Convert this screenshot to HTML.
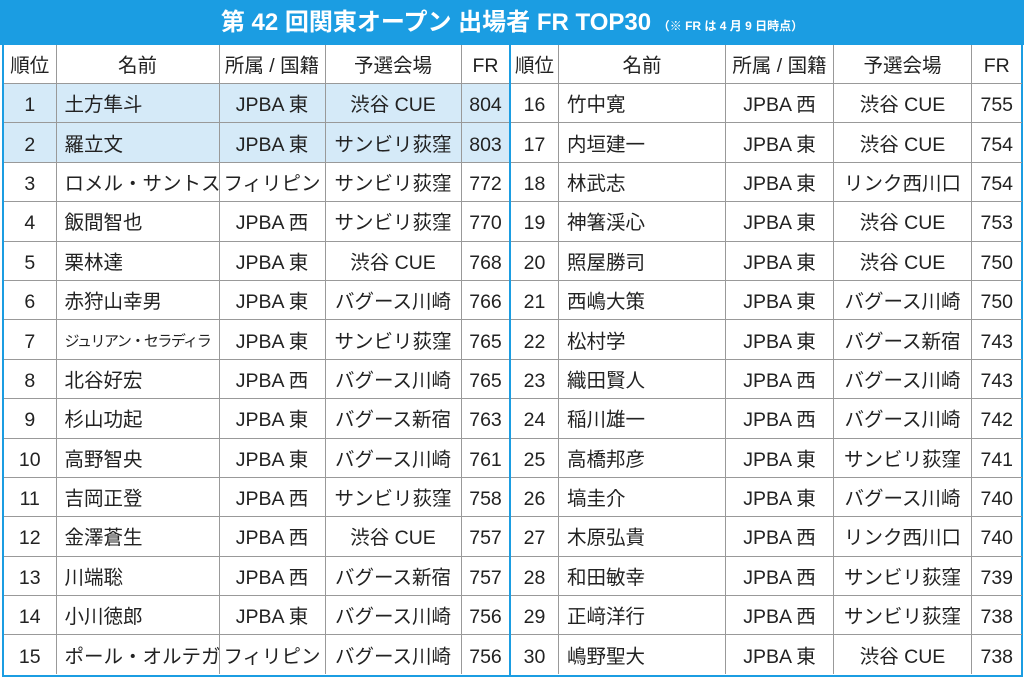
<!DOCTYPE html>
<html><head><meta charset="utf-8"><style>
html,body{margin:0;padding:0;background:#fff;}
body{width:1024px;height:680px;position:relative;overflow:hidden;font-family:"Liberation Sans","Noto Sans CJK JP",sans-serif;}
.title{position:absolute;left:0;top:0;width:1024px;height:45px;background:#1b9de2;color:#fff;font-weight:bold;font-size:24px;line-height:45px;text-align:center;}
.title small{font-size:12px;}
.wrap{position:absolute;left:2px;top:45px;width:1017px;height:630px;border:2px solid #1b9de2;border-top:none;}
table{position:absolute;top:0;border-collapse:collapse;table-layout:fixed;font-size:19.5px;color:#222;}
td{border:1px solid #999;height:34.4px;padding:4px 0 0 0;text-align:center;white-space:nowrap;overflow:hidden;vertical-align:middle;line-height:20px;}
td.n{text-align:left;padding-left:8px;}
tr.h td{height:34px;}
tr.b td{background:#d5eaf8;}
#L{left:0;width:506px;} #R{left:506px;width:511px;}
#L tr td:first-child{border-left:none;}
#R tr td:last-child{border-right:none;}
tr:first-child td{border-top:none;}
tr:last-child td{border-bottom:none;}
.div{position:absolute;left:505px;top:0;width:2px;height:630px;background:#1b9de2;}
.sm{font-size:15px;letter-spacing:-1.5px;}
</style></head><body>
<div class="title">第 42 回関東オープン 出場者 FR TOP30 <small>（※ FR は 4 月 9 日時点）</small></div>
<div class="wrap">
<table id="L"><colgroup><col style="width:52px"><col style="width:163px"><col style="width:106px"><col style="width:136px"><col style="width:49px"></colgroup>
<tr class="h"><td>順位</td><td>名前</td><td>所属 / 国籍</td><td>予選会場</td><td>FR</td></tr>
<tr class="b"><td>1</td><td class="n">土方隼斗</td><td>JPBA 東</td><td>渋谷 CUE</td><td>804</td></tr>
<tr class="b"><td>2</td><td class="n">羅立文</td><td>JPBA 東</td><td>サンビリ荻窪</td><td>803</td></tr>
<tr><td>3</td><td class="n">ロメル・サントス</td><td>フィリピン</td><td>サンビリ荻窪</td><td>772</td></tr>
<tr><td>4</td><td class="n">飯間智也</td><td>JPBA 西</td><td>サンビリ荻窪</td><td>770</td></tr>
<tr><td>5</td><td class="n">栗林達</td><td>JPBA 東</td><td>渋谷 CUE</td><td>768</td></tr>
<tr><td>6</td><td class="n">赤狩山幸男</td><td>JPBA 東</td><td>バグース川崎</td><td>766</td></tr>
<tr><td>7</td><td class="n sm">ジュリアン・セラディラ</td><td>JPBA 東</td><td>サンビリ荻窪</td><td>765</td></tr>
<tr><td>8</td><td class="n">北谷好宏</td><td>JPBA 西</td><td>バグース川崎</td><td>765</td></tr>
<tr><td>9</td><td class="n">杉山功起</td><td>JPBA 東</td><td>バグース新宿</td><td>763</td></tr>
<tr><td>10</td><td class="n">高野智央</td><td>JPBA 東</td><td>バグース川崎</td><td>761</td></tr>
<tr><td>11</td><td class="n">吉岡正登</td><td>JPBA 西</td><td>サンビリ荻窪</td><td>758</td></tr>
<tr><td>12</td><td class="n">金澤蒼生</td><td>JPBA 西</td><td>渋谷 CUE</td><td>757</td></tr>
<tr><td>13</td><td class="n">川端聡</td><td>JPBA 西</td><td>バグース新宿</td><td>757</td></tr>
<tr><td>14</td><td class="n">小川徳郎</td><td>JPBA 東</td><td>バグース川崎</td><td>756</td></tr>
<tr><td>15</td><td class="n">ポール・オルテガ</td><td>フィリピン</td><td>バグース川崎</td><td>756</td></tr>
</table>
<table id="R"><colgroup><col style="width:48px"><col style="width:167px"><col style="width:108px"><col style="width:138px"><col style="width:50px"></colgroup>
<tr class="h"><td>順位</td><td>名前</td><td>所属 / 国籍</td><td>予選会場</td><td>FR</td></tr>
<tr><td>16</td><td class="n">竹中寛</td><td>JPBA 西</td><td>渋谷 CUE</td><td>755</td></tr>
<tr><td>17</td><td class="n">内垣建一</td><td>JPBA 東</td><td>渋谷 CUE</td><td>754</td></tr>
<tr><td>18</td><td class="n">林武志</td><td>JPBA 東</td><td>リンク西川口</td><td>754</td></tr>
<tr><td>19</td><td class="n">神箸渓心</td><td>JPBA 東</td><td>渋谷 CUE</td><td>753</td></tr>
<tr><td>20</td><td class="n">照屋勝司</td><td>JPBA 東</td><td>渋谷 CUE</td><td>750</td></tr>
<tr><td>21</td><td class="n">西嶋大策</td><td>JPBA 東</td><td>バグース川崎</td><td>750</td></tr>
<tr><td>22</td><td class="n">松村学</td><td>JPBA 東</td><td>バグース新宿</td><td>743</td></tr>
<tr><td>23</td><td class="n">織田賢人</td><td>JPBA 西</td><td>バグース川崎</td><td>743</td></tr>
<tr><td>24</td><td class="n">稲川雄一</td><td>JPBA 西</td><td>バグース川崎</td><td>742</td></tr>
<tr><td>25</td><td class="n">高橋邦彦</td><td>JPBA 東</td><td>サンビリ荻窪</td><td>741</td></tr>
<tr><td>26</td><td class="n">塙圭介</td><td>JPBA 東</td><td>バグース川崎</td><td>740</td></tr>
<tr><td>27</td><td class="n">木原弘貴</td><td>JPBA 西</td><td>リンク西川口</td><td>740</td></tr>
<tr><td>28</td><td class="n">和田敏幸</td><td>JPBA 西</td><td>サンビリ荻窪</td><td>739</td></tr>
<tr><td>29</td><td class="n">正﨑洋行</td><td>JPBA 西</td><td>サンビリ荻窪</td><td>738</td></tr>
<tr><td>30</td><td class="n">嶋野聖大</td><td>JPBA 東</td><td>渋谷 CUE</td><td>738</td></tr>
</table>
<div class="div"></div>
</div>
</body></html>
